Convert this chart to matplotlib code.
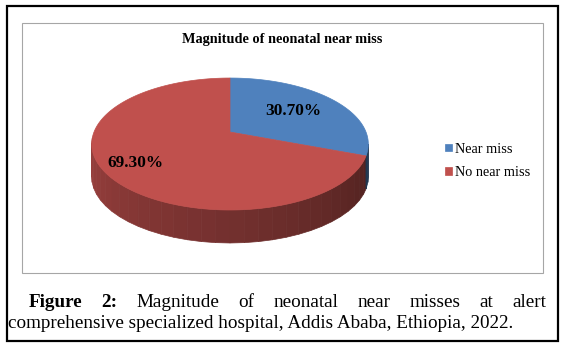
import numpy as np
import matplotlib
matplotlib.use('Agg')
import matplotlib.pyplot as plt
from matplotlib.patches import Polygon, Rectangle

# chart data
labels = ['Near miss', 'No near miss']
percent = [30.7, 69.3]
colors = ['#4f81bd', '#c0504d']
title = 'Magnitude of neonatal near miss'
caption_line1 = [('Figure', 'bold'), ('2:', 'bold'), ('Magnitude', 'normal'),
                 ('of', 'normal'), ('neonatal', 'normal'), ('near', 'normal'),
                 ('misses', 'normal'), ('at', 'normal'), ('alert', 'normal')]
caption_line2 = 'comprehensive specialized hospital, Addis Ababa, Ethiopia, 2022.'

plt.rcParams['font.family'] = ['Liberation Serif', 'DejaVu Serif']

fig = plt.figure(figsize=(5.66, 3.49), dpi=100)
ax = fig.add_axes([0, 0, 1, 1])
ax.set_xlim(0, 566)
ax.set_ylim(349, 0)
ax.axis('off')

# frames
ax.add_patch(Rectangle((7, 6), 551, 335, fill=False, lw=1.6, ec='black'))
ax.add_patch(Rectangle((22, 23), 521, 250, fill=False, lw=0.8, ec='#a6a6a6'))

# 3d pie with a bit of perspective
cx, cy, A, B, k, depth = 230, 132, 136, 63.8, 0.182, 33


def proj(theta, r=1.0):
    t = np.radians(theta)
    w = 1 + k * r * np.sin(t)
    return cx + r * A * np.cos(t) / w, cy - r * B * np.sin(t) / w


def shade(c, f):
    rgb = np.array(matplotlib.colors.to_rgb(c))
    return tuple(rgb * f)


cum = np.concatenate([[0], np.cumsum(percent)]) / 100 * 360
bounds = 90 - cum

# side wall, only the part that faces us (between the silhouette points)
sil = np.degrees(np.arcsin(k))
lo, hi = -180 + sil, -sil
edges = [lo] + list(np.arange(-175, -sil, 5)) + [hi]
for b in bounds:
    bb = ((b + 180) % 360) - 180
    if lo < bb < hi:
        edges.append(bb)
edges = sorted(edges)
for t1, t2 in zip(edges[:-1], edges[1:]):
    m = (t1 + t2) / 2
    off = (90 - m) % 360
    idx = int(np.searchsorted(cum, off) - 1)
    f = 0.82 - 0.44 * (m + 180) / 180
    x1, y1 = proj(t1)
    x2, y2 = proj(t2)
    col = shade(colors[idx], f)
    ax.add_patch(Polygon([(x1, y1), (x2, y2), (x2, y2 + depth), (x1, y1 + depth)],
                         closed=True, fc=col, ec=col, lw=0.5))

# top faces
tops = []
for i, lab in enumerate(labels):
    th = np.linspace(bounds[i], bounds[i + 1], 200)
    xs, ys = proj(th)
    pts = [(cx, cy)] + list(zip(xs, ys))
    p = Polygon(pts, closed=True, fc=colors[i], ec=colors[i], lw=0.5, label=lab)
    ax.add_patch(p)
    tops.append(p)

label_r = [0.6, 0.78]
for i, v in enumerate(percent):
    mid = (bounds[i] + bounds[i + 1]) / 2
    lx, ly = proj(mid, label_r[i])
    ax.text(lx, ly, f'{v:.2f}%', ha='center', va='center', fontsize=12.4,
            weight='bold', color='black')

ax.text(282, 40, title, ha='center', va='center', fontsize=10.3, weight='bold')

ax.legend(handles=tops, loc='center left', bbox_to_anchor=(438 / 566, 1 - 161 / 349),
          frameon=False, fontsize=10.3, handlelength=0.45, handleheight=0.45,
          handletextpad=0.25, labelspacing=0.75, borderpad=0)

# caption, first line justified
cap_size = 13.8
renderer = fig.canvas.get_renderer()
words = []
for w, wt in caption_line1:
    t = ax.text(0, 307, w, fontsize=cap_size, weight=wt, va='baseline', ha='left')
    words.append((t, t.get_window_extent(renderer).width))
x0, x1 = 29, 546
gap = (x1 - x0 - sum(wd for _, wd in words)) / (len(words) - 1)
x = x0
for t, wd in words:
    t.set_x(x)
    x += wd + gap

ax.text(8, 328, caption_line2, fontsize=cap_size, va='baseline', ha='left')

fig.savefig('out.png', dpi=100)
